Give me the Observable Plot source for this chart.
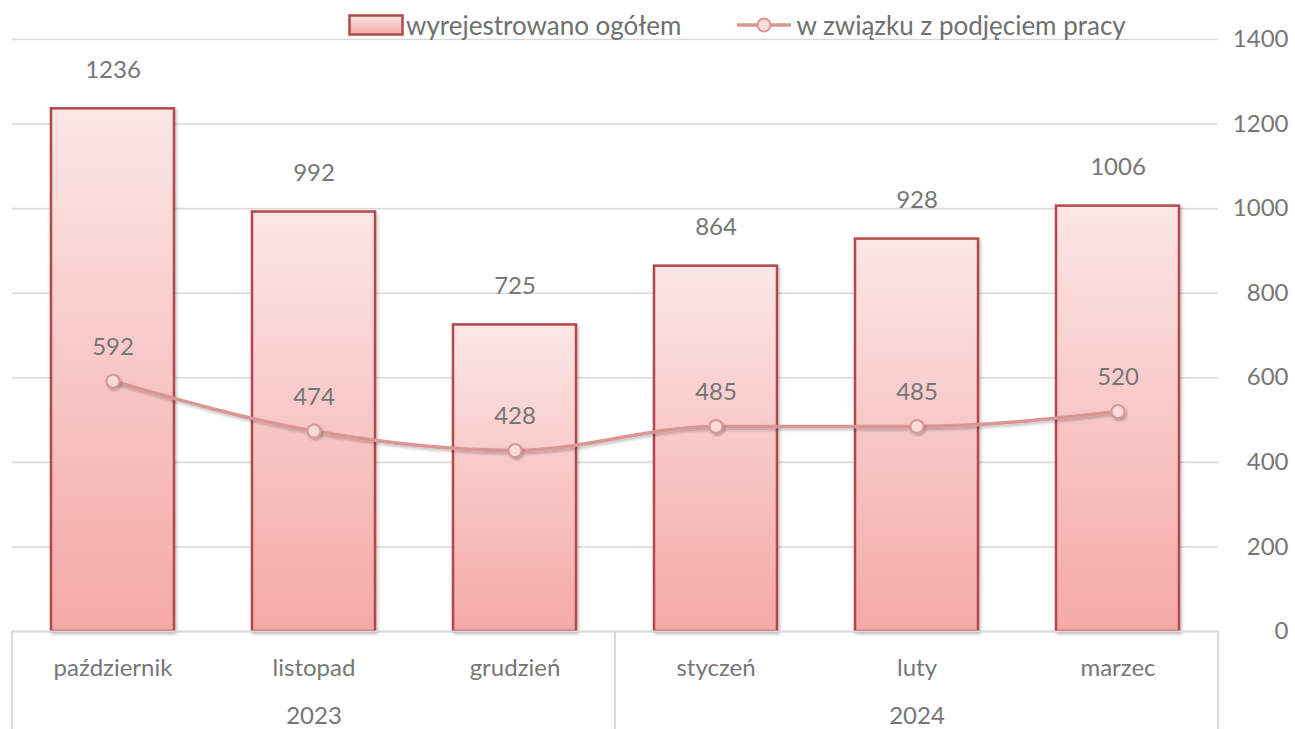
<!DOCTYPE html>
<html><head><meta charset="utf-8">
<script src="https://cdn.jsdelivr.net/npm/d3@7"></script>
<script src="https://cdn.jsdelivr.net/npm/@observablehq/plot@0.6"></script>
<style>
body{margin:0;background:#fff;font-family:Lato,"Open Sans",sans-serif;}
#wrap{position:relative;width:1295px;height:729px;}
#legend{position:absolute;top:10px;left:348px;display:flex;align-items:center;font-size:26px;color:#6f6f6f;line-height:30px;}
#legend .item{display:flex;align-items:center;}
</style></head>
<body><div id="wrap"><div id="legend"></div></div>
<script>
const months = ["październik","listopad","grudzień","styczeń","luty","marzec"];
const registered = [1236,992,725,864,928,1006];
const employment = [592,474,428,485,485,520];
const years = ["2023","2024"];
const yearCenterMonth = ["listopad","luty"];
const yTicks = [0,200,400,600,800,1000,1200,1400];
const seriesNames = ["wyrejestrowano ogółem","w związku z podjęciem pracy"];

const barData = months.map((m,i)=>({month:m, value:registered[i]}));
const lineData = months.map((m,i)=>({month:m, value:employment[i]}));
const yearData = years.map((y,i)=>({year:y, month:yearCenterMonth[i]}));

const barStroke = "#b3474a", lineColor = "#d99694", grid = "#d9d9d9", txt = "#767676";
const FS = 24;

const defs = () => {
  const s = d3.create("svg:defs");
  const g = s.append("linearGradient").attr("id","barGrad").attr("x1",0).attr("y1",0).attr("x2",0).attr("y2",1);
  g.append("stop").attr("offset","0%").attr("stop-color","#fbe6e6");
  g.append("stop").attr("offset","100%").attr("stop-color","#f4a9a7");
  const f = s.append("filter").attr("id","sh").attr("x","-10%").attr("y","-10%").attr("width","130%").attr("height","140%");
  f.append("feDropShadow").attr("dx",1.5).attr("dy",2).attr("stdDeviation",1.5).attr("flood-color","#000").attr("flood-opacity",0.25);
  return s.node();
};

const plot = Plot.plot({
  width:1295, height:729,
  marginLeft:12, marginRight:77, marginTop:39, marginBottom:98,
  style:{fontFamily:"Lato, 'Open Sans', sans-serif", fontSize:FS+"px", color:txt, background:"#fff"},
  x:{domain:months, paddingInner:0.39, paddingOuter:0.195, label:null},
  y:{domain:[0,1400], label:null},
  marks:[
    defs,
    Plot.gridY(yTicks,{stroke:grid, strokeOpacity:1, strokeWidth:1.6}),
    Plot.axisY(yTicks,{anchor:"right", tickSize:0, tickPadding:70, textAnchor:"end", fill:txt, label:null, fontSize:FS, tickFormat:d=>String(d)}),
    Plot.barY(barData,{x:"month", y:"value", fill:"url(#barGrad)", stroke:barStroke, strokeWidth:2.5}),
    Plot.ruleY([0],{stroke:grid, strokeWidth:2}),
    Plot.axisX({anchor:"bottom", tickSize:0, tickPadding:27, fill:txt, label:null, fontSize:FS}),
    Plot.text(yearData,{x:"month", text:"year", frameAnchor:"bottom", dy:92, fill:txt, fontSize:FS}),
    Plot.line(lineData,{x:"month", y:"value", stroke:lineColor, strokeWidth:3.5, curve:"monotone-x"}),
    Plot.dot(lineData,{x:"month", y:"value", r:6.5, fill:"#fbdcdc", stroke:lineColor, strokeWidth:2}),
    Plot.text(barData,{x:"month", y:"value", text:d=>String(d.value), dy:-39, fill:txt, fontSize:FS}),
    Plot.text(lineData,{x:"month", y:"value", text:d=>String(d.value), dy:-34, fill:txt, fontSize:FS})
  ]
});

d3.select(plot).selectAll("g[aria-label='line'] path").style("filter","url(#sh)");
d3.select(plot).selectAll("g[aria-label='bar'] rect").style("filter","url(#sh)");
d3.select(plot).selectAll("g[aria-label='dot'] circle").style("filter","url(#sh)");

const xs = plot.scale("x");
const bw = xs.bandwidth;
const x0 = 12, x1 = 1295-77;
const mid = (xs.apply("grudzień") + xs.apply("styczeń"))/2 + bw/2;
const yb = 729-98;
const sep = d3.select(plot).append("g");
[x0, mid, x1].forEach(x => sep.append("line").attr("x1",x).attr("x2",x).attr("y1",yb).attr("y2",729).attr("stroke",grid).attr("stroke-width",2));

document.getElementById("wrap").appendChild(plot);

const lg = d3.select("#legend");
const i1 = lg.append("div").attr("class","item");
i1.append("svg").attr("width",56).attr("height",22).html(
 `<defs><linearGradient id="lgGrad" x1="0" y1="0" x2="0" y2="1"><stop offset="0" stop-color="#fbe6e6"/><stop offset="1" stop-color="#f4a9a7"/></linearGradient></defs><rect x="1.5" y="1.5" width="53" height="19" fill="url(#lgGrad)" stroke="${barStroke}" stroke-width="2.5"/>`);
i1.append("span").text(seriesNames[0]).style("margin-left","2px");
const i2 = lg.append("div").attr("class","item").style("margin-left","56px");
i2.append("svg").attr("width",54).attr("height",22).html(
 `<line x1="0" x2="54" y1="11" y2="11" stroke="${lineColor}" stroke-width="3.5"/><circle cx="27" cy="11" r="6.5" fill="#fbdcdc" stroke="${lineColor}" stroke-width="2"/>`);
i2.append("span").text(seriesNames[1]).style("margin-left","5px");
</script></body></html>
